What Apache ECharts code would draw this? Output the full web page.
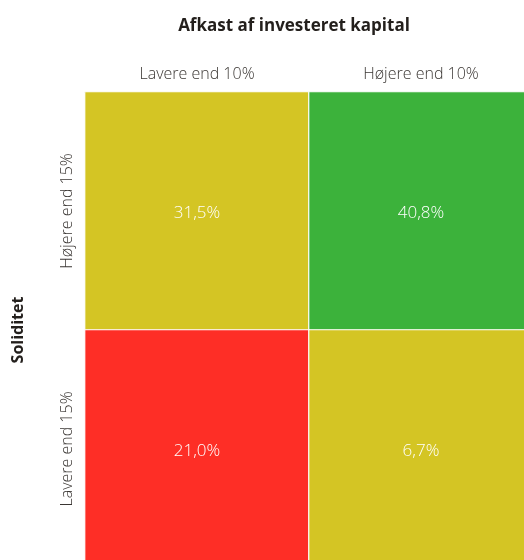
<!DOCTYPE html>
<html>
<head>
<meta charset="utf-8">
<script src="https://cdn.jsdelivr.net/npm/echarts@6/dist/echarts.min.js"></script>
<style>
html,body{margin:0;padding:0;background:#fff;}
#chart{width:524px;height:560px;}
</style>
</head>
<body>
<div id="chart"></div>
<script>
// Afkast (columns) vs. soliditet (rows) matrix
const returnCategories = ['Lavere end 10%', 'Højere end 10%'];
const solidityCategories = ['Lavere end 15%', 'Højere end 15%'];
// [column, row, share in %]
const cellValues = [
  [0, 1, 31.5],
  [1, 1, 40.8],
  [0, 0, 21.0],
  [1, 0, 6.7]
];
const cellColors = ['#D4C524', '#3CB23B', '#FE2E26', '#D4C524'];

const chart = echarts.init(document.getElementById('chart'));
const fontFamily = '"Open Sans", "Noto Sans", sans-serif';

chart.setOption({
  animation: false,
  title: {
    text: 'Afkast af investeret kapital',
    left: 289,
    top: 13,
    textAlign: 'center',
    textStyle: { fontFamily, fontSize: 17, fontWeight: 'bold', color: '#231f1c' }
  },
  grid: { left: 85, top: 92, width: 448, height: 476, outerBoundsMode: 'none', containLabel: false },
  xAxis: {
    type: 'category',
    position: 'top',
    data: returnCategories,
    axisLine: { show: true, onZero: false, lineStyle: { color: '#3CB23B', width: 1 } },
    axisTick: { show: false },
    splitLine: { show: false },
    axisLabel: { fontFamily, fontSize: 16, fontWeight: 300, color: '#3a3633', margin: 10 }
  },
  yAxis: {
    type: 'category',
    data: solidityCategories,
    name: 'Soliditet',
    nameLocation: 'middle',
    nameGap: 59,
    nameTextStyle: { fontFamily, fontSize: 16, fontWeight: 'bold', color: '#231f1c' },
    axisLine: { show: false },
    axisTick: { show: false },
    splitLine: { show: false },
    axisLabel: { fontFamily, fontSize: 16, fontWeight: 300, color: '#3a3633', rotate: 90, margin: 10, align: 'center' }
  },
  series: [{
    type: 'heatmap',
    data: cellValues.map((d, i) => ({
      value: d,
      itemStyle: { color: cellColors[i] }
    })),
    itemStyle: { borderColor: '#ffffff', borderWidth: 1.2 },
    label: {
      show: true,
      fontFamily,
      fontSize: 17,
      fontWeight: 300,
      color: '#ffffff',
      offset: [0, 2],
      formatter: p => p.value[2].toFixed(1).replace('.', ',') + '%'
    },
    emphasis: { disabled: true }
  }]
});
</script>
</body>
</html>
